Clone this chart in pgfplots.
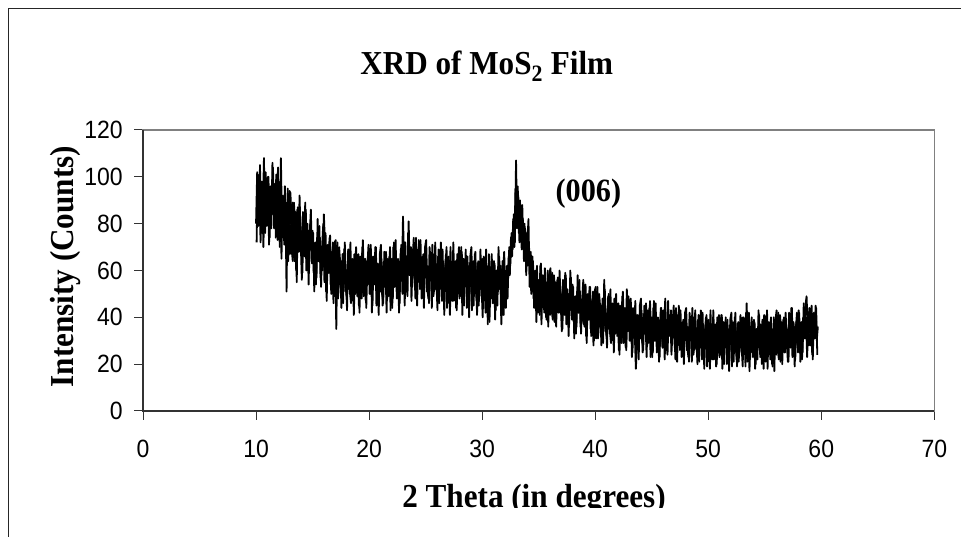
\documentclass[border=0pt]{standalone}
\usepackage{pgfplots}
\pgfplotsset{compat=1.18}
\usepackage{fontspec}
\setmainfont{Liberation Serif}[FakeStretch=0.93]
\newfontfamily\tickfont{Liberation Sans}[FakeStretch=0.92]
\tikzset{xrd/.style={black, line width=1.8pt, line join=round, mark=none}}
\begin{document}
\begin{tikzpicture}[x=1pt,y=1pt]
\useasboundingbox (0,0) rectangle (961,537);
\draw[line width=1.3pt, black!85] (8.3,-5) -- (8.3,528.7) -- (970,528.7);
\node[font=\bfseries\fontsize{33.5}{33.5}\selectfont, anchor=base] at (486.7,462) {XRD of MoS\textsubscript{2} Film};
\begin{axis}[
  at={(143pt,126pt)}, anchor=south west,
  scale only axis, width=791.3pt, height=281pt,
  xmin=0, xmax=70, ymin=0, ymax=120,
  xtick={0,10,...,70}, ytick={0,20,...,120},
  tick align=outside, major tick length=8.7pt,
  xtick pos=left, ytick pos=left,
  axis line style={draw=black!50, line width=1.2pt},
  tick style={black!80, line width=1pt},
  /pgf/number format/assume math mode=true,
  ticklabel style={font=\tickfont\fontsize{25}{25}\selectfont},
  xticklabel style={yshift=-17pt},
  yticklabel style={xshift=-8pt},
  after end axis/.code={
    \draw[black!80, line width=1.5pt] (rel axis cs:0,1) -- (rel axis cs:0,0) -- (rel axis cs:1,0);
  },
]
% XRD scan, samples at x.x0
\addplot[xrd] coordinates {
(10.0,80)(10.1,102)(10.2,79)(10.3,93)(10.4,72)(10.5,98)(10.6,85)(10.7,108)(10.8,76)(10.9,92)
(11.0,82)(11.1,100)(11.2,74)(11.3,96)(11.4,84)(11.5,104)(11.6,78)(11.7,91)(11.8,101)(11.9,73)
(12.0,90)(12.1,70)(12.2,108)(12.3,77)(12.4,83)(12.5,71)(12.6,89)(12.7,51)(12.8,95)(12.9,80)
(13.0,67)(13.1,79)(13.2,89)(13.3,69)(13.4,64)(13.5,85)(13.6,55)(13.7,87)(13.8,68)(13.9,82)
(14.0,74)(14.1,59)(14.2,82)(14.3,66)(14.4,86)(14.5,63)(14.6,76)(14.7,61)(14.8,80)(14.9,69)
(15.0,77)(15.1,59)(15.2,70)(15.3,54)(15.4,74)(15.5,64)(15.6,79)(15.7,57)(15.8,69)(15.9,60)
(16.0,84)(16.1,71)(16.2,51)(16.3,68)(16.4,59)(16.5,74)(16.6,54)(16.7,64)(16.8,72)(16.9,49)
(17.0,65)(17.1,35)(17.2,72)(17.3,54)(17.4,59)(17.5,49)(17.6,64)(17.7,46)(17.8,69)(17.9,56)
(18.0,49)(18.1,60)(18.2,69)(18.3,51)(18.4,46)(18.5,65)(18.6,56)(18.7,67)(18.8,50)(18.9,62)
(19.0,59)(19.1,45)(19.2,66)(19.3,52)(19.4,70)(19.5,49)(19.6,61)(19.7,47)(19.8,64)(19.9,54)
(20.0,68)(20.1,50)(20.2,61)(20.3,45)(20.4,65)(20.5,55)(20.6,70)(20.7,48)(20.8,60)(20.9,51)
(21.0,51)(21.1,65)(21.2,45)(21.3,62)(21.4,53)(21.5,68)(21.6,48)(21.7,58)(21.8,66)(21.9,43)
(22.0,65)(22.1,48)(22.2,72)(22.3,54)(22.4,59)(22.5,49)(22.6,64)(22.7,46)(22.8,69)(22.9,56)
(23.0,83)(23.1,63)(23.2,72)(23.3,54)(23.4,49)(23.5,81)(23.6,59)(23.7,70)(23.8,53)(23.9,65)
(24.0,62)(24.1,48)(24.2,69)(24.3,55)(24.4,73)(24.5,52)(24.6,64)(24.7,50)(24.8,67)(24.9,57)
(25.0,69)(25.1,51)(25.2,62)(25.3,46)(25.4,66)(25.5,56)(25.6,71)(25.7,49)(25.8,61)(25.9,52)
(26.0,52)(26.1,66)(26.2,46)(26.3,63)(26.4,54)(26.5,69)(26.6,49)(26.7,59)(26.8,67)(26.9,44)
(27.0,63)(27.1,46)(27.2,70)(27.3,52)(27.4,57)(27.5,47)(27.6,62)(27.7,44)(27.8,67)(27.9,54)
(28.0,48)(28.1,59)(28.2,68)(28.3,50)(28.4,45)(28.5,64)(28.6,55)(28.7,66)(28.8,49)(28.9,61)
(29.0,57)(29.1,43)(29.2,64)(29.3,50)(29.4,68)(29.5,47)(29.6,59)(29.7,45)(29.8,62)(29.9,52)
(30.0,65)(30.1,47)(30.2,58)(30.3,42)(30.4,62)(30.5,37)(30.6,67)(30.7,45)(30.8,57)(30.9,48)
(31.0,49)(31.1,63)(31.2,43)(31.3,60)(31.4,51)(31.5,66)(31.6,58)(31.7,37)(31.8,64)(31.9,41)
(32.0,58)(32.1,44)(32.2,62)(32.3,57)(32.4,70)(32.5,63)(32.6,76)(32.7,69)(32.8,84)(32.9,72)
(33.0,107)(33.1,78)(33.2,92)(33.3,72)(33.4,86)(33.5,69)(33.6,82)(33.7,64)(33.8,78)(33.9,58)
(34.0,72)(34.1,82)(34.2,53)(34.3,68)(34.4,54)(34.5,64)(34.6,44)(34.7,60)(34.8,38)(34.9,55)
(35.0,56)(35.1,41)(35.2,63)(35.3,46)(35.4,51)(35.5,42)(35.6,55)(35.7,39)(35.8,60)(35.9,48)
(36.0,41)(36.1,51)(36.2,59)(36.3,43)(36.4,38)(36.5,55)(36.6,47)(36.7,57)(36.8,42)(36.9,53)
(37.0,48)(37.1,35)(37.2,54)(37.3,41)(37.4,58)(37.5,39)(37.6,50)(37.7,37)(37.8,60)(37.9,43)
(38.0,54)(38.1,38)(38.2,48)(38.3,33)(38.4,51)(38.5,42)(38.6,56)(38.7,36)(38.8,47)(38.9,39)
(39.0,37)(39.1,50)(39.2,32)(39.3,47)(39.4,39)(39.5,53)(39.6,35)(39.7,44)(39.8,51)(39.9,30)
(40.0,46)(40.1,31)(40.2,53)(40.3,36)(40.4,41)(40.5,32)(40.6,45)(40.7,29)(40.8,56)(40.9,38)
(41.0,32)(41.1,42)(41.2,50)(41.3,34)(41.4,29)(41.5,46)(41.6,38)(41.7,48)(41.8,33)(41.9,44)
(42.0,39)(42.1,26)(42.2,45)(42.3,32)(42.4,49)(42.5,29)(42.6,41)(42.7,27)(42.8,52)(42.9,34)
(43.0,46)(43.1,30)(43.2,40)(43.3,25)(43.4,43)(43.5,34)(43.6,18)(43.7,28)(43.8,39)(43.9,31)
(44.0,31)(44.1,43)(44.2,25)(44.3,40)(44.4,33)(44.5,46)(44.6,28)(44.7,37)(44.8,44)(44.9,23)
(45.0,40)(45.1,25)(45.2,47)(45.3,30)(45.4,35)(45.5,26)(45.6,39)(45.7,23)(45.8,44)(45.9,32)
(46.0,27)(46.1,37)(46.2,48)(46.3,29)(46.4,24)(46.5,41)(46.6,33)(46.7,43)(46.8,28)(46.9,39)
(47.0,35)(47.1,22)(47.2,41)(47.3,28)(47.4,45)(47.5,26)(47.6,37)(47.7,24)(47.8,39)(47.9,30)
(48.0,42)(48.1,26)(48.2,36)(48.3,21)(48.4,39)(48.5,30)(48.6,44)(48.7,24)(48.8,35)(48.9,27)
(49.0,26)(49.1,39)(49.2,21)(49.3,36)(49.4,28)(49.5,42)(49.6,24)(49.7,33)(49.8,40)(49.9,19)
(50.0,36)(50.1,21)(50.2,43)(50.3,26)(50.4,31)(50.5,22)(50.6,35)(50.7,19)(50.8,40)(50.9,28)
(51.0,23)(51.1,33)(51.2,41)(51.3,25)(51.4,20)(51.5,37)(51.6,29)(51.7,39)(51.8,24)(51.9,35)
(52.0,32)(52.1,19)(52.2,38)(52.3,25)(52.4,42)(52.5,22)(52.6,34)(52.7,21)(52.8,36)(52.9,27)
(53.0,40)(53.1,24)(53.2,34)(53.3,19)(53.4,46)(53.5,28)(53.6,42)(53.7,22)(53.8,33)(53.9,25)
(54.0,25)(54.1,38)(54.2,20)(54.3,35)(54.4,27)(54.5,41)(54.6,23)(54.7,32)(54.8,39)(54.9,18)
(55.0,36)(55.1,21)(55.2,43)(55.3,26)(55.4,31)(55.5,22)(55.6,35)(55.7,19)(55.8,40)(55.9,28)
(56.0,24)(56.1,34)(56.2,42)(56.3,26)(56.4,21)(56.5,38)(56.6,30)(56.7,40)(56.8,25)(56.9,36)
(57.0,34)(57.1,21)(57.2,40)(57.3,27)(57.4,44)(57.5,24)(57.6,36)(57.7,22)(57.8,38)(57.9,29)
(58.0,43)(58.1,27)(58.2,37)(58.3,22)(58.4,40)(58.5,31)(58.6,45)(58.7,49)(58.8,36)(58.9,28)
(59.0,29)(59.1,42)(59.2,24)(59.3,39)(59.4,31)(59.5,45)(59.6,30)(59.7,36)
};
% same scan, samples at x.x5
\addplot[xrd] coordinates {
(10.05,72)(10.15,101)(10.25,83)(10.35,105)(10.45,76)(10.55,96)(10.65,70)(10.75,92)(10.85,102)(10.95,79)
(11.05,100)(11.15,71)(11.25,95)(11.35,78)(11.45,106)(11.55,85)(11.65,97)(11.75,74)(11.85,93)(11.95,104)
(12.05,74)(12.15,98)(12.25,65)(12.35,92)(12.45,78)(12.55,96)(12.65,69)(12.75,89)(12.85,64)(12.95,94)
(13.05,93)(13.15,69)(13.25,64)(13.35,89)(13.45,81)(13.55,60)(13.65,86)(13.75,68)(13.85,92)(13.95,73)
(14.05,56)(14.15,85)(14.25,67)(14.35,89)(14.45,60)(14.55,80)(14.65,54)(14.75,76)(14.85,86)(14.95,63)
(15.05,76)(15.15,51)(15.25,72)(15.35,57)(15.45,82)(15.55,64)(15.65,74)(15.75,53)(15.85,71)(15.95,80)
(16.05,55)(16.15,76)(16.25,47)(16.35,71)(16.45,59)(16.55,75)(16.65,50)(16.75,68)(16.85,46)(16.95,72)
(17.05,73)(17.15,52)(17.25,48)(17.35,70)(17.45,63)(17.55,44)(17.65,67)(17.75,51)(17.85,72)(17.95,56)
(18.05,43)(18.15,69)(18.25,52)(18.35,72)(18.45,47)(18.55,64)(18.65,41)(18.75,60)(18.85,70)(18.95,49)
(19.05,67)(19.15,42)(19.25,63)(19.35,48)(19.45,73)(19.55,55)(19.65,65)(19.75,44)(19.85,62)(19.95,71)
(20.05,50)(20.15,71)(20.25,42)(20.35,66)(20.45,54)(20.55,70)(20.65,45)(20.75,63)(20.85,41)(20.95,67)
(21.05,71)(21.15,50)(21.25,46)(21.35,68)(21.45,61)(21.55,42)(21.65,65)(21.75,49)(21.85,70)(21.95,54)
(22.05,44)(22.15,70)(22.25,53)(22.35,73)(22.45,48)(22.55,65)(22.65,42)(22.75,61)(22.85,71)(22.95,50)
(23.05,70)(23.15,45)(23.25,66)(23.35,51)(23.45,76)(23.55,58)(23.65,68)(23.75,47)(23.85,65)(23.95,74)
(24.05,53)(24.15,74)(24.25,45)(24.35,69)(24.45,57)(24.55,73)(24.65,48)(24.75,66)(24.85,44)(24.95,70)
(25.05,73)(25.15,52)(25.25,48)(25.35,70)(25.45,63)(25.55,44)(25.65,67)(25.75,51)(25.85,72)(25.95,56)
(26.05,43)(26.15,69)(26.25,52)(26.35,72)(26.45,47)(26.55,64)(26.65,41)(26.75,60)(26.85,70)(26.95,49)
(27.05,66)(27.15,41)(27.25,62)(27.35,47)(27.45,72)(27.55,54)(27.65,64)(27.75,43)(27.85,61)(27.95,70)
(28.05,49)(28.15,70)(28.25,41)(28.35,65)(28.45,53)(28.55,69)(28.65,44)(28.75,62)(28.85,40)(28.95,66)
(29.05,70)(29.15,49)(29.25,45)(29.35,67)(29.45,60)(29.55,41)(29.65,64)(29.75,48)(29.85,69)(29.95,53)
(30.05,40)(30.15,66)(30.25,49)(30.35,69)(30.45,44)(30.55,61)(30.65,38)(30.75,57)(30.85,67)(30.95,46)
(31.05,64)(31.15,39)(31.25,60)(31.35,45)(31.45,70)(31.55,52)(31.65,62)(31.75,41)(31.85,59)(31.95,68)
(32.05,52)(32.15,60)(32.25,48)(32.35,66)(32.45,58)(32.55,74)(32.65,66)(32.75,82)(32.85,70)(32.95,95)
(33.05,88)(33.15,96)(33.25,76)(33.35,90)(33.45,74)(33.55,88)(33.65,70)(33.75,80)(33.85,64)(33.95,76)
(34.05,62)(34.15,70)(34.25,60)(34.35,50)(34.45,66)(34.55,48)(34.65,58)(34.75,44)(34.85,62)(34.95,42)
(35.05,44)(35.15,62)(35.25,37)(35.35,58)(35.45,47)(35.55,61)(35.65,40)(35.75,55)(35.85,36)(35.95,59)
(36.05,61)(36.15,43)(36.25,39)(36.35,58)(36.45,52)(36.55,36)(36.65,56)(36.75,42)(36.85,60)(36.95,46)
(37.05,34)(37.15,56)(37.25,42)(37.35,59)(37.45,37)(37.55,52)(37.65,32)(37.75,49)(37.85,57)(37.95,39)
(38.05,53)(38.15,31)(38.25,49)(38.35,36)(38.45,58)(38.55,42)(38.65,51)(38.75,33)(38.85,48)(38.95,56)
(39.05,36)(39.15,54)(39.25,29)(39.35,50)(39.45,39)(39.55,53)(39.65,32)(39.75,47)(39.85,28)(39.95,51)
(40.05,53)(40.15,35)(40.25,31)(40.35,50)(40.45,44)(40.55,28)(40.65,48)(40.75,34)(40.85,52)(40.95,38)
(41.05,27)(41.15,49)(41.25,35)(41.35,52)(41.45,30)(41.55,45)(41.65,25)(41.75,42)(41.85,50)(41.95,32)
(42.05,46)(42.15,24)(42.25,42)(42.35,29)(42.45,51)(42.55,35)(42.65,44)(42.75,26)(42.85,41)(42.95,49)
(43.05,30)(43.15,48)(43.25,23)(43.35,44)(43.45,33)(43.55,47)(43.65,26)(43.75,41)(43.85,22)(43.95,45)
(44.05,48)(44.15,30)(44.25,26)(44.35,45)(44.45,39)(44.55,23)(44.65,43)(44.75,29)(44.85,47)(44.95,33)
(45.05,23)(45.15,44)(45.25,30)(45.35,46)(45.45,25)(45.55,40)(45.65,21)(45.75,37)(45.85,44)(45.95,27)
(46.05,43)(46.15,22)(46.25,39)(46.35,26)(46.45,47)(46.55,32)(46.65,41)(46.75,24)(46.85,38)(46.95,45)
(47.05,27)(47.15,44)(47.25,21)(47.35,41)(47.45,30)(47.55,43)(47.65,23)(47.75,38)(47.85,20)(47.95,42)
(48.05,44)(48.15,27)(48.25,23)(48.35,42)(48.45,36)(48.55,21)(48.65,40)(48.75,26)(48.85,43)(48.95,30)
(49.05,20)(49.15,41)(49.25,27)(49.35,43)(49.45,22)(49.55,37)(49.65,18)(49.75,34)(49.85,41)(49.95,24)
(50.05,39)(50.15,18)(50.25,35)(50.35,22)(50.45,43)(50.55,28)(50.65,37)(50.75,20)(50.85,34)(50.95,41)
(51.05,24)(51.15,41)(51.25,18)(51.35,38)(51.45,27)(51.55,40)(51.65,20)(51.75,35)(51.85,17)(51.95,39)
(52.05,42)(52.15,25)(52.25,21)(52.35,40)(52.45,34)(52.55,19)(52.65,38)(52.75,24)(52.85,41)(52.95,28)
(53.05,19)(53.15,40)(53.25,26)(53.35,42)(53.45,21)(53.55,36)(53.65,17)(53.75,33)(53.85,40)(53.95,23)
(54.05,39)(54.15,18)(54.25,35)(54.35,22)(54.45,43)(54.55,28)(54.65,37)(54.75,20)(54.85,34)(54.95,41)
(55.05,24)(55.15,41)(55.25,18)(55.35,38)(55.45,27)(55.55,40)(55.65,20)(55.75,35)(55.85,17)(55.95,39)
(56.05,43)(56.15,26)(56.25,22)(56.35,41)(56.45,35)(56.55,20)(56.65,39)(56.75,25)(56.85,42)(56.95,29)
(57.05,21)(57.15,42)(57.25,28)(57.35,44)(57.45,23)(57.55,38)(57.65,19)(57.75,35)(57.85,42)(57.95,25)
(58.05,42)(58.15,21)(58.25,38)(58.35,25)(58.45,46)(58.55,31)(58.65,40)(58.75,23)(58.85,37)(58.95,44)
(59.05,28)(59.15,45)(59.25,22)(59.35,42)(59.45,31)(59.55,44)(59.65,24)
};
\node[font=\bfseries\fontsize{32.5}{32.5}\selectfont] at (axis cs:39.4,93) {(006)};
\end{axis}
\node[rotate=90, anchor=base, font=\bfseries\fontsize{33.5}{33.5}\selectfont] at (73,270.3) {Intensity (Counts)};
\begin{scope}
\clip (0,29) rectangle (961,537);
\node[anchor=base, font=\bfseries\fontsize{33.5}{33.5}\selectfont] at (534,29.5) {2 Theta (in degrees)};
\end{scope}
\end{tikzpicture}
\end{document}
